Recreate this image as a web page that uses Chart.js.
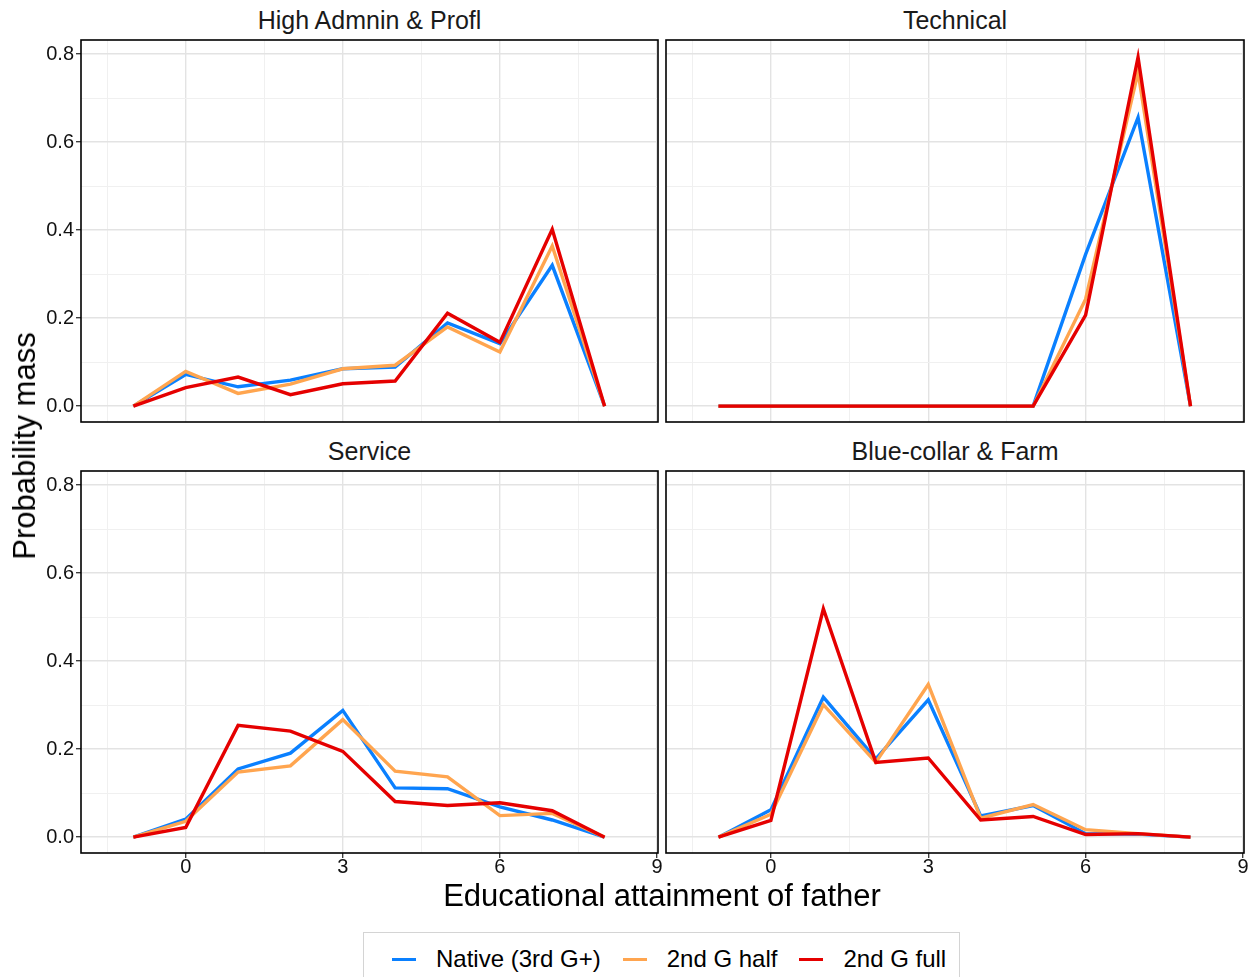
<!DOCTYPE html>
<html>
<head>
<meta charset="utf-8">
<title>Probability mass by educational attainment of father</title>
<script src="https://cdn.jsdelivr.net/npm/chart.js@4.4.1/dist/chart.umd.min.js"></script>
<style>
  html, body { margin: 0; padding: 0; background: #fff; }
  #fig {
    position: relative; width: 1255px; height: 977px; overflow: hidden;
    font-family: "Liberation Sans", Arial, Helvetica, sans-serif; color: #1a1a1a;
  }
  #fig canvas { position: absolute; }
  .strip { position: absolute; height: 40px; line-height: 40px; text-align: center; font-size: 25px; white-space: nowrap; }
  #ytitle {
    position: absolute; left: 25px; top: 446px; font-size: 31px; white-space: nowrap; color: #000;
    transform: translate(-50%, -50%) rotate(-90deg);
  }
  #xtitle {
    position: absolute; left: 662px; top: 896px; font-size: 31px; white-space: nowrap; color: #000;
    transform: translate(-50%, -50%);
  }
  #legend {
    position: absolute; left: 363px; top: 932px; width: 597px; height: 60px;
    border: 1px solid #d4d4d4; box-sizing: border-box;
    display: flex; align-items: flex-start; padding-left: 28px; white-space: nowrap;
  }
  #legend .item { display: flex; align-items: center; height: 52px; margin-right: 22px; font-size: 24px; color: #000; white-space: nowrap; flex: none; }
  #legend .key { width: 24px; height: 3px; margin-right: 20px; flex: none; }
</style>
</head>
<body>
<div id="fig">
  <div class="strip" style="left:81px; width:577px; top:0;" id="t0"></div>
  <div class="strip" style="left:666px; width:578px; top:0;" id="t1"></div>
  <div class="strip" style="left:81px; width:577px; top:431px;" id="t2"></div>
  <div class="strip" style="left:666px; width:578px; top:431px;" id="t3"></div>

  <canvas id="c0" width="680" height="422" style="left:0; top:20px;"></canvas>
  <canvas id="c1" width="609" height="422" style="left:646px; top:20px;"></canvas>
  <canvas id="c2" width="680" height="432" style="left:0; top:451px;"></canvas>
  <canvas id="c3" width="609" height="432" style="left:646px; top:451px;"></canvas>

  <div id="ytitle">Probability mass</div>
  <div id="xtitle">Educational attainment of father</div>
  <div id="legend"></div>
</div>

<script>
// Educational attainment categories of the father (x positions)
const fatherEducation = [-1, 0, 1, 2, 3, 4, 5, 6, 7, 8];

// Labelled ticks on each axis
const xTickLabels = [0, 3, 6, 9];
const yTickLabels = [0.0, 0.2, 0.4, 0.6, 0.8];

// Occupation groups (one panel each) and the three generation series
const occupations = ['High Admnin & Profl', 'Technical', 'Service', 'Blue-collar & Farm'];
const seriesNames = ['Native (3rd G+)', '2nd G half', '2nd G full'];
const seriesColors = ['#0A80FF', '#FFA54F', '#E50000'];

// High Admnin & Profl
const highAdminNative = [0, 0.072, 0.044, 0.059, 0.085, 0.089, 0.189, 0.142, 0.320, 0];
const highAdminHalf   = [0, 0.079, 0.029, 0.050, 0.085, 0.093, 0.180, 0.123, 0.364, 0];
const highAdminFull   = [0, 0.042, 0.066, 0.026, 0.051, 0.057, 0.211, 0.145, 0.402, 0];

// Technical
const technicalNative = [0, 0, 0, 0, 0, 0, 0, 0.345, 0.656, 0];
const technicalHalf   = [0, 0, 0, 0, 0, 0, 0, 0.243, 0.759, 0];
const technicalFull   = [0, 0, 0, 0, 0, 0, 0, 0.207, 0.793, 0];

// Service
const serviceNative = [0, 0.041, 0.155, 0.191, 0.288, 0.112, 0.110, 0.069, 0.039, 0];
const serviceHalf   = [0, 0.036, 0.148, 0.162, 0.267, 0.150, 0.137, 0.049, 0.054, 0];
const serviceFull   = [0, 0.022, 0.254, 0.241, 0.195, 0.081, 0.072, 0.078, 0.060, 0];

// Blue-collar & Farm
const blueCollarNative = [0, 0.062, 0.318, 0.178, 0.312, 0.048, 0.072, 0.008, 0.007, 0];
const blueCollarHalf   = [0, 0.052, 0.301, 0.170, 0.347, 0.043, 0.074, 0.017, 0.008, 0];
const blueCollarFull   = [0, 0.038, 0.519, 0.170, 0.180, 0.039, 0.047, 0.006, 0.008, 0];

const panelSeries = [
  [highAdminNative, highAdminHalf, highAdminFull],
  [technicalNative, technicalHalf, technicalFull],
  [serviceNative, serviceHalf, serviceFull],
  [blueCollarNative, blueCollarHalf, blueCollarFull]
];

const FONT = '"Liberation Sans", Arial, Helvetica, sans-serif';
const near = (a, b) => Math.abs(a - b) < 1e-6;
const isMajorX = v => xTickLabels.some(t => near(t, v));
const isMajorY = v => yTickLabels.some(t => near(t, v));

// Black frame around each panel, drawn above the lines
const panelFrame = {
  id: 'panelFrame',
  afterDatasetsDraw(chart) {
    const { ctx, chartArea: a } = chart;
    ctx.save();
    ctx.strokeStyle = '#000';
    ctx.lineWidth = 1.6;
    ctx.strokeRect(a.left, a.top, a.right - a.left, a.bottom - a.top);
    ctx.restore();
  }
};

function gridColor(isMajor) {
  return ctx => (ctx.tick && isMajor(ctx.tick.value)) ? '#e3e3e3' : '#f0f0f0';
}
function gridWidth(isMajor) {
  return ctx => (ctx.tick && isMajor(ctx.tick.value)) ? 1.4 : 1;
}
function tickColor(isMajor) {
  return ctx => (ctx.tick && isMajor(ctx.tick.value)) ? '#333' : 'rgba(0,0,0,0)';
}

function buildPanel(index, showX, showY, padding) {
  const [nat, half, full] = panelSeries[index];
  const values = [nat, half, full];
  const datasets = values.map((vals, s) => ({
    label: seriesNames[s],
    data: fatherEducation.map((x, i) => ({ x: x, y: vals[i] })),
    borderColor: seriesColors[s],
    backgroundColor: seriesColors[s],
    borderWidth: 3.4,
    pointRadius: 0,
    pointHoverRadius: 0,
    tension: 0,
    fill: false,
    order: 2 - s   // 2nd G full on top, native underneath
  }));

  document.getElementById('t' + index).textContent = occupations[index];

  return new Chart(document.getElementById('c' + index), {
    type: 'line',
    data: { datasets },
    plugins: [panelFrame],
    options: {
      responsive: false,
      animation: false,
      devicePixelRatio: 1,
      layout: { padding },
      plugins: { legend: { display: false }, tooltip: { enabled: false }, title: { display: false } },
      scales: {
        x: {
          type: 'linear', min: -2, max: 9.02,
          border: { display: false },
          grid: {
            color: gridColor(isMajorX), lineWidth: gridWidth(isMajorX),
            drawTicks: showX, tickLength: 5, tickWidth: 1.3, tickColor: tickColor(isMajorX)
          },
          ticks: {
            display: showX, stepSize: 1.5, includeBounds: false, autoSkip: false, maxRotation: 0,
            padding: -3, color: '#111', font: { family: FONT, size: 20 },
            callback: v => isMajorX(v) ? String(Math.round(v)) : ''
          },
          afterFit: s => { s.height = showX ? 30 : 0; }
        },
        y: {
          type: 'linear', min: -0.036, max: 0.832,
          border: { display: false },
          grid: {
            color: gridColor(isMajorY), lineWidth: gridWidth(isMajorY),
            drawTicks: showY, tickLength: 5, tickWidth: 1.3, tickColor: tickColor(isMajorY)
          },
          ticks: {
            display: showY, stepSize: 0.1, includeBounds: false, autoSkip: false,
            padding: 2, color: '#111', font: { family: FONT, size: 20 },
            callback: v => isMajorY(v) ? v.toFixed(1) : ''
          },
          afterFit: s => { s.width = showY ? 81 : 0; }
        }
      }
    }
  });
}

buildPanel(0, false, true,  { top: 20, bottom: 20, left: 0,  right: 22 });
buildPanel(1, false, false, { top: 20, bottom: 20, left: 20, right: 11 });
buildPanel(2, true,  true,  { top: 20, bottom: 0,  left: 0,  right: 22 });
buildPanel(3, true,  false, { top: 20, bottom: 0,  left: 20, right: 11 });

// Shared legend below the panels
const legend = document.getElementById('legend');
seriesNames.forEach((name, s) => {
  const item = document.createElement('div');
  item.className = 'item';
  const key = document.createElement('span');
  key.className = 'key';
  key.style.background = seriesColors[s];
  const label = document.createElement('span');
  label.textContent = name;
  item.appendChild(key);
  item.appendChild(label);
  legend.appendChild(item);
});
</script>
</body>
</html>
